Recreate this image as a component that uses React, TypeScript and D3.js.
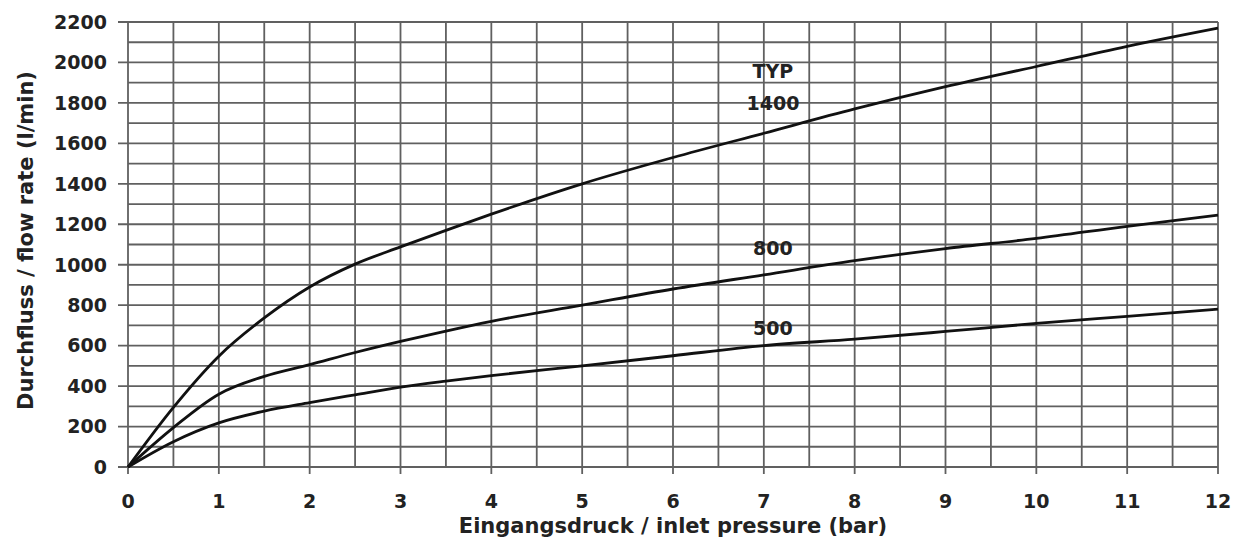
import * as d3 from 'd3';

const pressure = [0, 0.5, 1, 1.5, 2, 2.5, 3, 3.5, 4, 5, 6, 7, 8, 9, 10, 11, 12];
const typ1400 = [0, 295, 548, 737, 890, 1003, 1088, 1170, 1250, 1400, 1530, 1650, 1770, 1880, 1980, 2080, 2170];
const typ800 = [0, 195, 360, 448, 506, 566, 621, 672, 720, 800, 880, 950, 1020, 1080, 1130, 1190, 1245];
const typ500 = [0, 125, 218, 276, 318, 357, 395, 425, 452, 500, 550, 600, 632, 670, 710, 745, 780];
const seriesNames = ['1400', '800', '500'];
const xTicks = d3.range(0, 13, 1);
const yTicks = d3.range(0, 2201, 200);

export default function App() {
  const w = 1244;
  const h = 542;
  const x = d3.scaleLinear().domain([0, 12]).range([128, 1218]);
  const y = d3.scaleLinear().domain([0, 2200]).range([467, 22]);

  const line = d3.line<[number, number]>()
    .x(d => x(d[0]))
    .y(d => y(d[1]))
    .curve(d3.curveMonotoneX);

  const all = [typ1400, typ800, typ500];
  const font = '"DejaVu Sans", Verdana, sans-serif';

  // where the curve names sit (x in bar, y in l/min, baseline)
  const labelAt: [number, number][] = [[7.1, 1765], [7.1, 1048], [7.1, 652]];

  return (
    <svg width={w} height={h} style={{ position: 'absolute', left: 0, top: 0, background: '#fff' }}>
      <g stroke="#606060" strokeWidth={1.8}>
        {d3.range(0, 12.01, 0.5).map(v => (
          <line key={'v' + v} x1={x(v)} x2={x(v)} y1={y(2200)} y2={Number.isInteger(v) ? y(0) + 7 : y(0)} />
        ))}
        {d3.range(0, 2201, 100).map(v => (
          <line key={'h' + v} x1={v % 200 === 0 ? x(0) - 10 : x(0)} x2={x(12)} y1={y(v)} y2={y(v)} />
        ))}
      </g>
      <g fill="none" stroke="#111" strokeWidth={2.8}>
        {all.map((s, i) => (
          <path key={i} d={line(pressure.map((p, j) => [p, s[j]] as [number, number])) || ''} />
        ))}
      </g>
      <g fontFamily={font} fontWeight="bold" fontSize={19} fill="#222">
        {yTicks.map(t => (
          <text key={t} x={x(0) - 21} y={y(t)} dy="0.36em" textAnchor="end">{t}</text>
        ))}
        {xTicks.map(t => (
          <text key={t} x={x(t)} y={508} textAnchor="middle">{t}</text>
        ))}
        <text x={673} y={533} textAnchor="middle" fontSize={21}>Eingangsdruck / inlet pressure (bar)</text>
        <text transform={`translate(33,${y(1120)}) rotate(-90)`} textAnchor="middle" fontSize={21}>Durchfluss / flow rate (l/min)</text>
        <text x={x(7.1)} y={y(1923)} textAnchor="middle">TYP</text>
        {seriesNames.map((n, i) => (
          <text key={n} x={x(labelAt[i][0])} y={y(labelAt[i][1])} textAnchor="middle">{n}</text>
        ))}
      </g>
    </svg>
  );
}
